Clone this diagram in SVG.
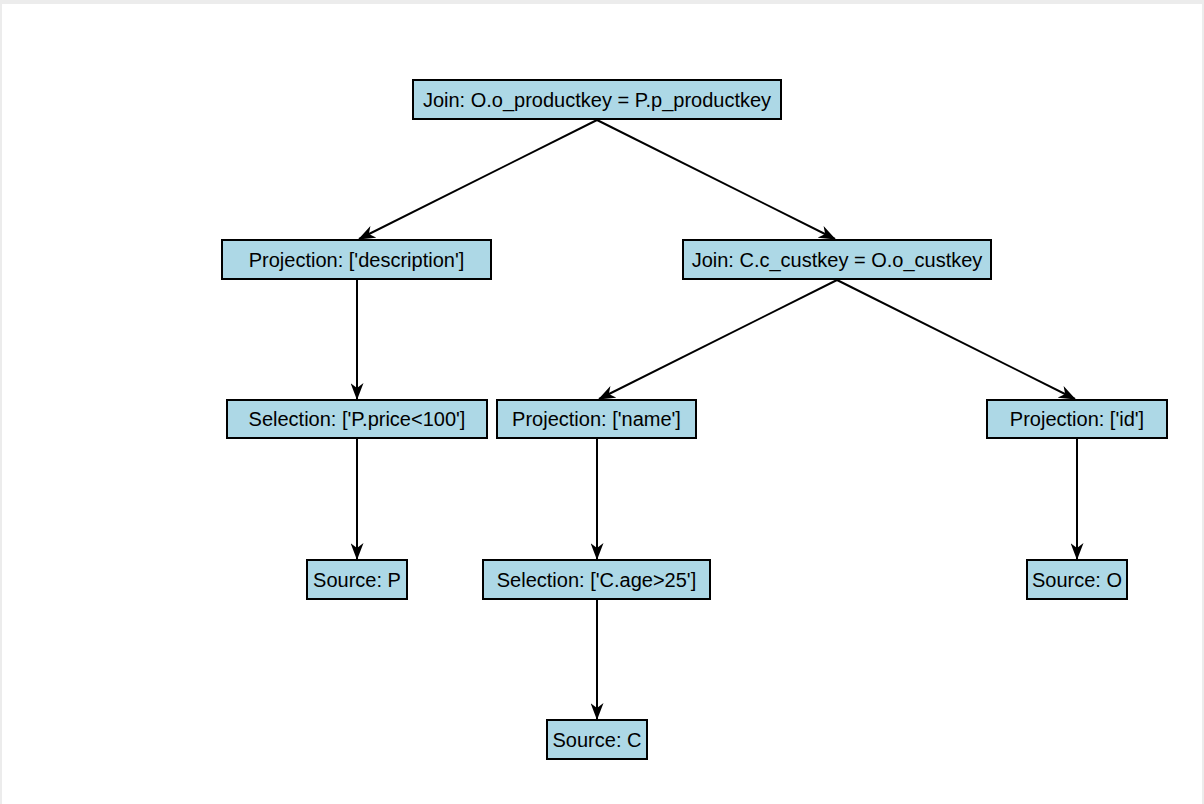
<svg xmlns="http://www.w3.org/2000/svg" width="1204" height="804" viewBox="0 0 1204 804">
<style>
.n rect{fill:#add8e6;stroke:#000;stroke-width:2}
.n text{font-family:"Liberation Sans",Arial,sans-serif;font-size:20px;fill:#000;text-anchor:middle;dominant-baseline:central}
.e line{stroke:#000;stroke-width:2;marker-end:url(#a)}
</style>
<defs>
<marker id="a" markerUnits="userSpaceOnUse" markerWidth="17" markerHeight="13" refX="16" refY="6.5" orient="auto">
<path d="M0,0 L17,6.5 L0,13 L5,6.5 Z" fill="#000"/>
</marker>
</defs>
<rect x="0" y="0" width="1204" height="804" fill="#ececec"/>
<rect x="2" y="4" width="1200" height="800" fill="#fff"/>
<g class="e" id="edges">
<line x1="597" y1="120" x2="359" y2="239"/>
<line x1="597" y1="120" x2="835" y2="239"/>
<line x1="357" y1="280" x2="357" y2="399"/>
<line x1="357" y1="439" x2="357" y2="559"/>
<line x1="837" y1="280" x2="599" y2="399"/>
<line x1="837" y1="280" x2="1075" y2="399"/>
<line x1="597" y1="439" x2="597" y2="559"/>
<line x1="1077" y1="439" x2="1077" y2="559"/>
<line x1="597" y1="600" x2="597" y2="719"/>
</g>
<g class="n" id="n1"><rect x="413" y="80" width="368" height="39"/><text x="597" y="100">Join: O.o_productkey = P.p_productkey</text></g>
<g class="n" id="n2"><rect x="222" y="240" width="269" height="39"/><text x="356.5" y="260">Projection: ['description']</text></g>
<g class="n" id="n3"><rect x="683" y="240" width="308" height="39"/><text x="837" y="260">Join: C.c_custkey = O.o_custkey</text></g>
<g class="n" id="n4"><rect x="227" y="400" width="260" height="38"/><text x="357" y="419">Selection: ['P.price&lt;100']</text></g>
<g class="n" id="n5"><rect x="497" y="400" width="199" height="38"/><text x="596.5" y="419">Projection: ['name']</text></g>
<g class="n" id="n6"><rect x="987" y="400" width="180" height="38"/><text x="1077" y="419">Projection: ['id']</text></g>
<g class="n" id="n7"><rect x="307" y="560" width="100" height="39"/><text x="357" y="580">Source: P</text></g>
<g class="n" id="n8"><rect x="483" y="560" width="227" height="39"/><text x="596.5" y="580">Selection: ['C.age&gt;25']</text></g>
<g class="n" id="n9"><rect x="1027" y="560" width="100" height="39"/><text x="1077" y="580">Source: O</text></g>
<g class="n" id="n10"><rect x="547" y="720" width="100" height="39"/><text x="597" y="740">Source: C</text></g>
</svg>
